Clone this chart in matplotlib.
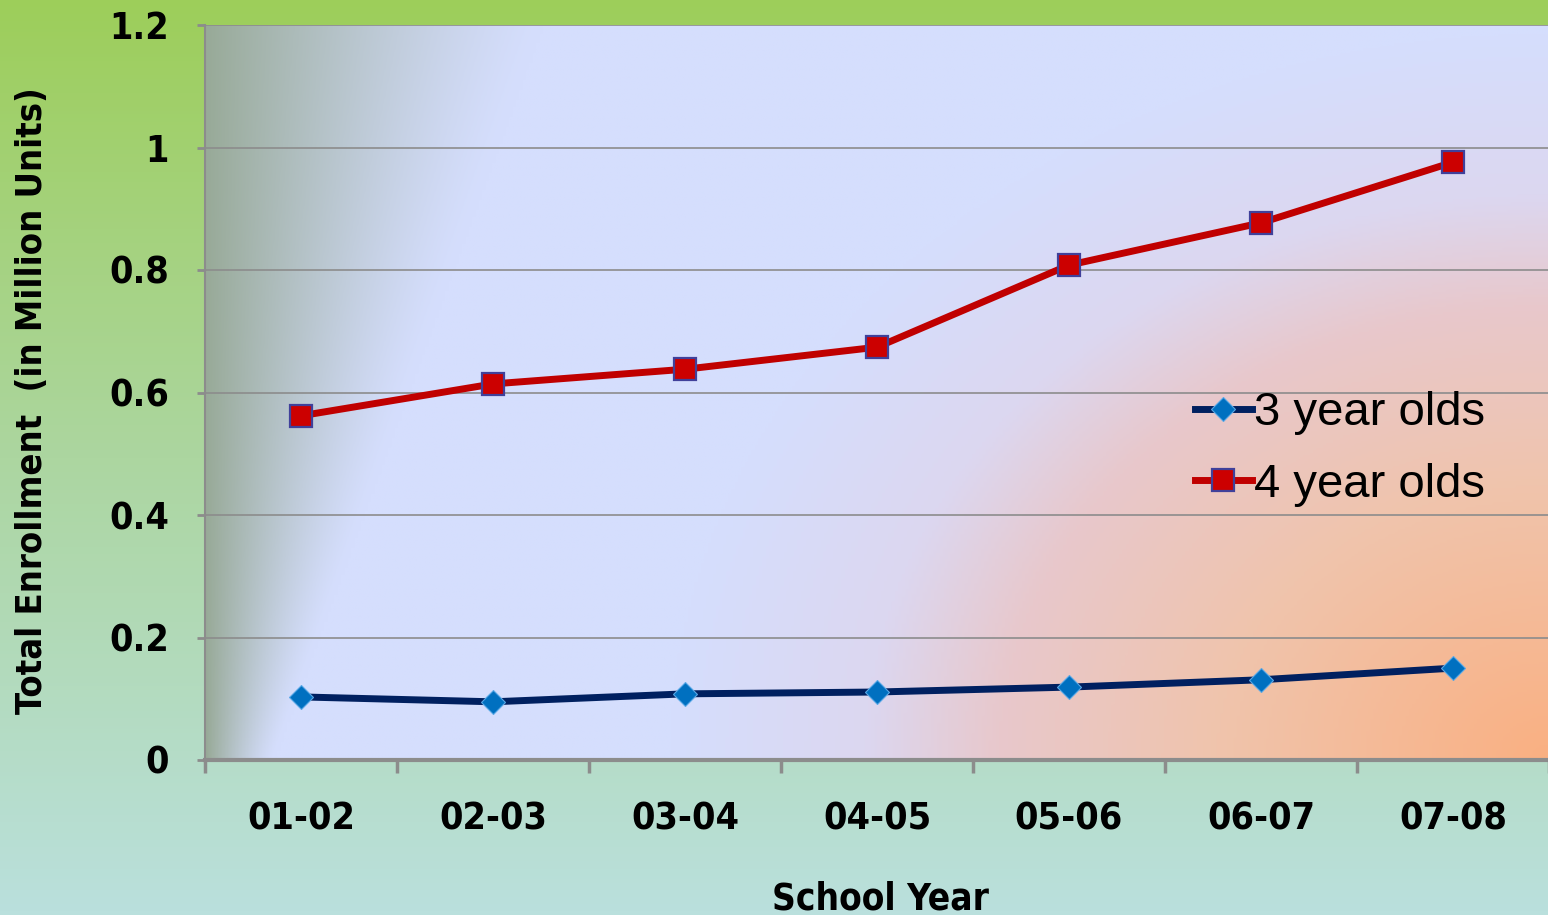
import numpy as np
import matplotlib
matplotlib.use("Agg")
import matplotlib.pyplot as plt
from matplotlib.colors import LinearSegmentedColormap

# enrollment by school year, in millions
years = ["01-02", "02-03", "03-04", "04-05", "05-06", "06-07", "07-08"]
three_year_olds = [0.103, 0.095, 0.108, 0.111, 0.119, 0.131, 0.150]
four_year_olds = [0.562, 0.614, 0.638, 0.674, 0.808, 0.877, 0.976]
y_ticks = [0, 0.2, 0.4, 0.6, 0.8, 1, 1.2]
y_tick_labels = ["0", "0.2", "0.4", "0.6", "0.8", "1", "1.2"]

fig = plt.figure(figsize=(15.48, 9.15), dpi=100)

# figure background: green at the top fading to pale teal
bg = fig.add_axes([0, 0, 1, 1], zorder=-10)
top = np.array([157, 206, 90]) / 255
mid = np.array([172, 214, 160]) / 255
bot = np.array([186, 224, 221]) / 255
cmap_bg = LinearSegmentedColormap.from_list("bg", [bot, mid, top])
bg.imshow(np.linspace(0, 1, 256).reshape(-1, 1), cmap=cmap_bg, aspect="auto",
          origin="lower", extent=(0, 1, 0, 1))
bg.axis("off")

ax = fig.add_axes([205 / 1548, 1 - 760 / 915, 1344 / 1548, 735 / 915])
xlim = (-0.5, len(years) - 0.5)
ylim = (0, 1.2)

# plot area shading: warm glow from the bottom-right corner over light blue,
# with a grey wash in the top-left corner
u, v = np.meshgrid(np.linspace(0, 1, 400), np.linspace(0, 1, 300))
d = np.sqrt(((1 - u) / 0.82) ** 2 + (v / 1.24) ** 2)
p = np.clip(1 - d, 0, 1)
warm = LinearSegmentedColormap.from_list("warm", [
    (0.0, (213 / 255, 222 / 255, 253 / 255)),
    (0.2, (213 / 255, 222 / 255, 253 / 255)),
    (0.38, (220 / 255, 215 / 255, 240 / 255)),
    (0.5, (232 / 255, 200 / 255, 204 / 255)),
    (0.7, (240 / 255, 196 / 255, 172 / 255)),
    (1.0, (250 / 255, 176 / 255, 130 / 255)),
])
shade = warm(p)[..., :3]
grey = np.array([152, 170, 152]) / 255
g = np.clip(1 - u / (0.05 + 0.2 * v), 0, 1)[..., None] ** 1.3
shade = shade * (1 - g) + grey * g
ax.imshow(shade, extent=(*xlim, *ylim), aspect="auto", origin="lower", zorder=0)

x = np.arange(len(years))
ax.plot(x, three_year_olds, color="#002060", lw=5, marker="D", ms=12,
        mfc="#0070c0", mec="#5aa8e6", mew=0.8, label="3 year olds", zorder=3)
ax.plot(x, four_year_olds, color="#c00000", lw=5, marker="s", ms=16,
        mfc="#cc0000", mec="#40409a", mew=1.6, label="4 year olds", zorder=3)

ax.set_xlim(*xlim)
ax.set_ylim(*ylim)

for yv in y_ticks[1:]:
    ax.axhline(yv, color="#8c8c8c", lw=1.2, zorder=1)

bold = dict(family="DejaVu Sans", weight="bold", stretch="condensed", size=27)
ax.set_yticks(y_ticks)
ax.set_yticklabels(y_tick_labels, **bold)
ax.set_xticks(x)
ax.set_xticklabels(years, **bold)
ax.set_xticks(np.arange(-0.5, len(years)), minor=True)
ax.tick_params(axis="y", length=6, width=2, color="#8c8c8c", pad=20)
ax.tick_params(axis="x", which="major", length=0, pad=30)
ax.tick_params(axis="x", which="minor", length=9, width=2.5, color="#8c8c8c")

for side in ["top", "right"]:
    ax.spines[side].set_visible(False)
ax.spines["left"].set_color("#8c8c8c")
ax.spines["left"].set_linewidth(1.5)
ax.spines["bottom"].set_color("#8c8c8c")
ax.spines["bottom"].set_linewidth(3)

fig.text(32 / 1548, 1 - 401 / 915, "Total Enrollment  (in Million Units)",
         rotation=90, ha="center", va="center", **{**bold, "size": 26})
fig.text(880 / 1548, 1 - 899 / 915, "School Year", ha="center", va="center",
         **{**bold, "size": 26.5})

ax.legend(loc="center left", bbox_to_anchor=(1195 / 1548, 1 - 449 / 915),
          bbox_transform=fig.transFigure, frameon=False, borderpad=0,
          borderaxespad=0, handlelength=1.2, handletextpad=0.05,
          labelspacing=0.58, prop=dict(family="Liberation Sans", size=34))

fig.savefig("out.png", dpi=100)
